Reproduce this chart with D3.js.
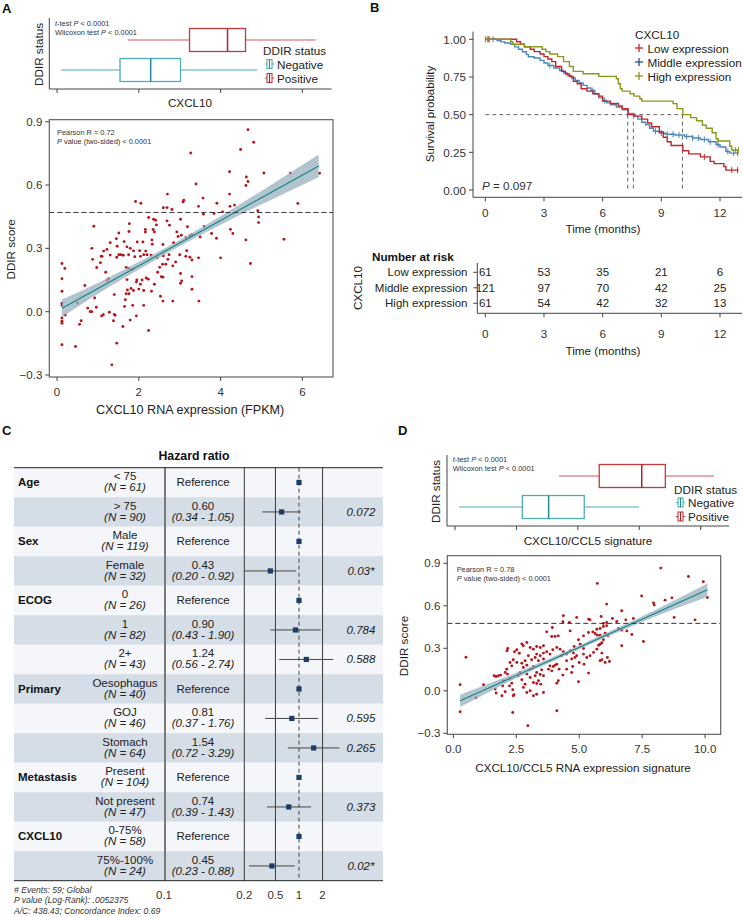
<!DOCTYPE html>
<html><head><meta charset="utf-8">
<script src="https://cdn.jsdelivr.net/npm/d3@7"></script>
<style>body{margin:0;background:#fff}svg{display:block}</style>
</head><body>
<script>
// ---------------- DATA ----------------
// Panel A boxplot: [min, q1, median, q3, max] of CXCL10 (FPKM)
const boxGroups = ["Positive", "Negative"];
const boxA_positive = [1.73, 3.24, 4.17, 4.61, 6.32];
const boxA_negative = [0.10, 1.54, 2.29, 3.02, 4.90];
const boxA_ticks = [0, 2, 4, 6];
// Panel D boxplot: CXCL10/CCL5 signature
const boxD_positive = [4.23, 5.87, 7.60, 8.56, 10.54];
const boxD_negative = [0.17, 2.74, 3.81, 5.26, 7.49];
const boxD_ticks = [0, 2.5, 5, 7.5, 10];

// Panel A scatter: [CXCL10 FPKM, DDIR score]
const scatterA = [
[4.67,0.862],[4.81,0.803],[4.49,0.768],[3.27,0.752],[4.22,0.663],[5.06,0.657],[5.71,0.656],[6.42,0.656],[4.63,0.638],[4.67,0.617],
[4.62,0.598],[3.40,0.605],[4.22,0.557],[2.70,0.557],[3.57,0.538],[3.10,0.528],[3.08,0.52],[1.92,0.522],[2.05,0.514],[3.91,0.514],
[5.89,0.513],[3.46,0.499],[4.23,0.499],[4.34,0.505],[2.60,0.492],[2.69,0.493],[2.81,0.484],[3.84,0.465],[4.05,0.473],[4.91,0.478],
[3.58,0.462],[2.24,0.446],[2.36,0.438],[2.41,0.433],[2.69,0.430],[3.02,0.438],[4.93,0.449],[1.77,0.417],[4.93,0.422],[2.43,0.411],
[2.75,0.41],[3.19,0.402],[4.24,0.39],[1.51,0.373],[1.76,0.38],[2.16,0.389],[2.16,0.377],[2.35,0.389],[2.38,0.378],[2.93,0.378],
[3.60,0.404],[4.30,0.37],[3.78,0.37],[3.25,0.36],[3.30,0.365],[0.90,0.405],[2.96,0.356],[3.04,0.362],[3.15,0.35],[3.50,0.354],
[3.90,0.348],[4.62,0.34],[5.55,0.343],[1.45,0.346],[2.32,0.340],[1.64,0.332],[1.30,0.327],[1.96,0.33],[2.10,0.33],[2.33,0.32],
[2.85,0.327],[2.59,0.318],[1.47,0.31],[1.71,0.307],[1.79,0.30],[0.85,0.30],[1.14,0.287],[1.22,0.295],[1.87,0.288],[2.02,0.289],
[2.17,0.287],[3.17,0.289],[1.10,0.262],[1.30,0.268],[1.46,0.258],[1.62,0.267],[1.75,0.27],[1.90,0.26],[2.30,0.268],[2.45,0.255],
[2.60,0.265],[3.00,0.27],[3.25,0.258],
[0.12,0.228],[0.19,0.205],[0.12,0.156],[0.12,0.097],[0.12,0.04],[0.12,0.03],[0.20,-0.016],[0.50,0.041],[0.12,-0.03],[0.12,-0.045],
[0.12,-0.055],[0.12,-0.157],[0.45,-0.165],[0.59,-0.043],[0.55,-0.06],[0.68,0.124],[0.75,0.017],[0.81,0.0],[0.85,0.0],[0.96,0.021],
[0.92,0.065],[0.87,0.248],[0.97,0.209],[1.06,0.232],[1.08,0.263],[1.13,-0.014],[1.09,-0.02],[1.19,0.187],[1.22,0.149],[1.26,0.156],
[1.28,-0.003],[1.38,-0.043],[1.42,-0.017],[1.40,-0.013],[1.40,0.081],[1.46,-0.149],[1.61,-0.07],[1.51,0.27],[1.56,0.27],[1.65,0.025],
[1.67,0.057],[1.69,0.085],[1.72,0.103],[1.76,0.085],[1.69,0.21],[1.75,0.205],[1.83,0.2],[1.71,0.152],[1.79,-0.04],[1.94,-0.02],
[1.85,0.03],[1.81,0.11],[1.87,0.10],[1.94,0.14],[1.95,0.15],[2.00,0.107],[2.04,0.13],[2.08,0.15],[2.18,0.16],[2.23,0.154],
[2.12,0.03],[2.12,0.10],[2.31,0.097],[2.24,-0.089],[2.12,0.27],[2.20,0.27],[2.04,0.262],[2.38,0.13],[2.46,0.187],[2.51,0.21],
[2.53,0.073],[2.59,0.05],[2.55,0.166],[2.59,0.163],[2.58,0.225],[2.66,0.225],[2.71,0.248],[2.74,0.27],[2.83,0.217],[2.90,0.235],
[2.83,0.05],[3.02,0.181],[3.05,0.145],[3.02,0.135],[3.15,0.262],[3.30,0.245],[3.30,0.166],[3.30,0.106],[3.46,0.255],[3.47,0.05],
[4.00,0.255],[4.73,0.228],[1.34,-0.252]
];
// Panel D scatter: [CXCL10/CCL5 signature, DDIR score]
const scatterD = [
[8.24,0.866],[9.34,0.807],[9.93,0.77],[5.72,0.758],[10.09,0.659],[7.48,0.67],[8.41,0.64],[8.68,0.656],[7.95,0.62],[7.98,0.605],
[6.09,0.612],[4.37,0.53],[4.90,0.518],[6.69,0.565],[8.77,0.518],[9.60,0.501],[5.87,0.524],[5.37,0.506],[5.43,0.501],[6.49,0.489],
[6.85,0.501],[7.15,0.51],[3.93,0.447],[4.64,0.423],[4.35,0.487],[4.61,0.482],[3.91,0.383],[4.04,0.383],[4.17,0.388],[3.71,0.416],
[5.70,0.435],[5.83,0.44],[5.96,0.454],[6.09,0.459],[6.09,0.482],[5.96,0.475],[6.32,0.51],[5.37,0.412],[5.54,0.416],[5.63,0.405],
[5.72,0.393],[5.83,0.393],[6.03,0.407],[6.14,0.388],[6.56,0.44],[6.69,0.428],[6.89,0.423],[7.09,0.397],[7.55,0.348],[6.69,0.318],
[5.96,0.36],[5.83,0.329],[5.77,0.322],[5.90,0.339],[5.17,0.388],[4.97,0.36],[5.04,0.329],[5.17,0.299],[4.80,0.313],[2.16,0.299],
[2.13,0.283],[2.43,0.276],[2.52,0.29],[2.62,0.265],[2.72,0.33],[2.78,0.318],[2.92,0.341],[3.05,0.306],[3.18,0.294],[3.31,0.313],
[3.45,0.306],[3.58,0.318],[3.31,0.259],[3.45,0.248],[3.58,0.266],[3.71,0.276],[3.84,0.259],[3.95,0.29],[4.11,0.306],[4.24,0.294],
[4.37,0.276],[4.50,0.259],[4.64,0.283],[4.77,0.266],[4.90,0.248],[4.30,0.248],[4.50,0.212],[4.70,0.224],[4.83,0.235],[5.17,0.259],
[5.30,0.235],[5.43,0.248],[5.57,0.271],[5.70,0.294],[5.83,0.212],[5.90,0.219],[6.20,0.207],[5.00,0.2],[5.19,0.188],[5.37,0.125],
[4.70,0.129],[4.74,0.172],[4.97,0.064],[4.11,0.188],[3.97,0.172],[3.84,0.176],[3.78,0.153],[3.91,0.141],[4.04,0.181],[4.20,0.153],
[4.35,0.111],[4.50,0.153],[3.58,0.224],[3.38,0.212],[3.25,0.235],[3.11,0.219],[2.98,0.248],[2.85,0.212],[2.38,0.219],[2.52,0.2],
[2.32,0.176],[2.25,0.2],[2.72,0.195],[2.78,0.165],[2.92,0.181],[3.05,0.153],[3.18,0.172],[3.31,0.129],[3.45,0.115],[3.58,0.106],
[3.51,0.148],[2.92,0.118],[3.05,0.094],[3.18,0.059],[3.31,0.052],[3.47,0.047],[3.38,0.071],[3.25,0.106],[2.65,0.129],[2.58,0.106],
[2.72,0.078],[2.85,0.047],[2.78,0.024],[2.92,-0.012],[3.05,0.0],[3.18,-0.035],[3.31,-0.024],[3.58,-0.012],[4.11,0.054],[4.17,0.071],
[2.06,0.129],[2.12,0.153],[2.15,0.118],[2.25,0.087],[2.32,0.054],[2.23,0.035],[2.36,0.007],[2.41,-0.028],[2.38,-0.035],[1.79,0.106],
[1.88,0.111],[1.99,0.071],[1.96,0.035],[2.06,-0.007],[1.93,-0.035],[1.62,0.106],[1.70,0.101],[1.20,0.043],[1.66,0.012],[1.70,-0.016],
[0.50,0.237],[0.27,0.043],[0.90,-0.049],[0.27,-0.148],[2.36,-0.153],[4.11,-0.141],[2.96,-0.247],[6.03,0.2],[6.12,0.235],[5.90,0.266]
];
// Regression fits with 95% CI (x, fit, lower, upper)
const regA_x  = [0.12, 1, 2, 3, 4, 5, 6.4];
const regA_fit= [0.016, 0.110, 0.218, 0.325, 0.432, 0.540, 0.690];
const regA_lo = [-0.025, 0.085, 0.200, 0.310, 0.412, 0.508, 0.637];
const regA_hi = [0.058, 0.136, 0.236, 0.340, 0.452, 0.572, 0.745];
const regD_x  = [0.27, 2, 4, 6, 8, 10.09];
const regD_fit= [-0.070, 0.068, 0.227, 0.387, 0.546, 0.713];
const regD_lo = [-0.115, 0.045, 0.212, 0.372, 0.523, 0.662];
const regD_hi = [-0.027, 0.092, 0.242, 0.402, 0.568, 0.757];
const thresholdA = 0.47, thresholdD = 0.476;
const scatterTicksY = [-0.3, 0, 0.3, 0.6, 0.9];
const scatterA_ticksX = [0, 2, 4, 6];
const scatterD_ticksX = [0, 2.5, 5, 7.5, 10];

// Panel B Kaplan-Meier: [time (months), survival]
const kmLow = [[0,1],[1.6,0.984],[1.8,0.967],[2.0,0.951],[2.3,0.934],[2.5,0.918],[2.8,0.902],[3.0,0.885],[3.2,0.869],[3.4,0.852],
 [3.6,0.82],[3.9,0.787],[4.1,0.77],[4.3,0.754],[4.5,0.721],[4.7,0.705],[4.9,0.672],[5.2,0.656],[5.5,0.639],[5.8,0.623],[6.0,0.59],
 [6.4,0.574],[6.8,0.557],[7.0,0.54],[7.3,0.5],[7.6,0.49],[8.0,0.47],[8.3,0.445],[8.5,0.42],[8.9,0.385],[9.1,0.35],[9.3,0.32],
 [9.5,0.295],[10.1,0.26],[10.4,0.24],[11.0,0.22],[11.5,0.19],[11.7,0.175],[12.2,0.155],[12.3,0.132]];
const kmMid = [[0,1],[0.6,0.992],[0.8,0.983],[1.0,0.975],[1.3,0.967],[1.5,0.95],[1.7,0.934],[1.9,0.917],[2.1,0.9],[2.2,0.884],
 [2.5,0.876],[2.8,0.86],[3.0,0.843],[3.2,0.826],[3.5,0.81],[3.8,0.793],[4.0,0.776],[4.2,0.76],[4.4,0.743],[4.6,0.727],[4.8,0.71],
 [5.0,0.694],[5.2,0.677],[5.4,0.66],[5.6,0.636],[5.8,0.611],[6.0,0.594],[6.2,0.578],[6.4,0.566],[6.7,0.55],[7.0,0.533],[7.3,0.508],
 [7.6,0.49],[7.8,0.47],[8.0,0.45],[8.2,0.432],[8.4,0.41],[8.6,0.39],[8.9,0.378],[9.2,0.37],[9.7,0.365],[10.2,0.355],[10.6,0.345],
 [11.0,0.335],[11.4,0.32],[11.8,0.3],[12.0,0.285],[12.3,0.255],[12.5,0.245]];
const kmHigh = [[0,1],[1.3,0.984],[1.4,0.967],[2.0,0.951],[2.9,0.934],[3.1,0.918],[3.3,0.902],[3.7,0.885],[4.0,0.852],[4.3,0.82],
 [4.5,0.787],[5.0,0.771],[5.8,0.754],[6.7,0.738],[6.8,0.705],[6.9,0.672],[7.0,0.656],[7.4,0.639],[7.6,0.623],[7.9,0.606],[8.0,0.59],
 [9.6,0.573],[9.8,0.54],[10.1,0.5],[10.5,0.48],[10.8,0.46],[11.1,0.43],[11.3,0.41],[11.6,0.38],[11.8,0.34],[11.9,0.325],[12.5,0.29],[12.6,0.265]];
const kmEnd = 12.95;
const censorLow = [0.15, 11.2, 12.6, 12.9];
const censorMid = [0.0, 0.2, 0.4, 3.3, 5.5, 6.1, 8.7, 9.0, 9.3, 9.6, 9.9, 10.3, 10.6, 10.9, 11.2, 11.5, 11.9, 12.4, 12.7, 12.9];
const censorHigh = [0.1, 11.9, 12.8, 12.95];
const kmMedians = [7.28, 7.57, 10.08];
const kmGroups = ["Low expression", "Middle expression", "High expression"];
const kmTicksX = [0, 3, 6, 9, 12];
const kmTicksY = [0, 0.25, 0.5, 0.75, 1];
const riskLow = [61, 53, 35, 21, 6];
const riskMid = [121, 97, 70, 42, 25];
const riskHigh = [61, 54, 42, 32, 13];

// Panel C forest plot
const forestVar   = ["Age","","Sex","","ECOG","","","Primary","","","Metastasis","","CXCL10",""];
const forestLevel = ["< 75","> 75","Male","Female","0","1","2+","Oesophagus","GOJ","Stomach","Present","Not present","0-75%","75%-100%"];
const forestN     = [61,90,119,32,26,82,43,40,46,64,104,47,58,24];
const forestHR    = [1,0.60,1,0.43,1,0.90,1.24,1,0.81,1.54,1,0.74,1,0.45];
const forestLo    = [null,0.34,null,0.20,null,0.43,0.56,null,0.37,0.72,null,0.39,null,0.23];
const forestHi    = [null,1.05,null,0.92,null,1.90,2.74,null,1.76,3.29,null,1.43,null,0.88];
const forestP     = ["","0.072","","0.03*","","0.784","0.588","","0.595","0.265","","0.373","","0.02*"];
const forestGrid  = [0.2, 0.5, 2];
const forestTickLabels = ["0.2","0.5","1","2"];
const forestTickValues = [0.2, 0.5, 1, 2];
const forestFoot = ["# Events: 59; Global", "P value (Log-Rank): .0052375", "A/C: 438.43; Concordance Index: 0.69"];

// ---------------- DRAWING ----------------
const F = '"Liberation Sans", Arial, Helvetica, sans-serif';
const svg = d3.select("body").append("svg").attr("width", 743).attr("height", 917);
function T(x, y, s, o = {}) {
  const t = svg.append("text").attr("x", x).attr("y", y).attr("font-family", F)
    .attr("font-size", o.size || 11.5).attr("fill", o.fill || "#222")
    .attr("text-anchor", o.anchor || "start");
  if (o.weight) t.attr("font-weight", o.weight);
  if (o.italic) t.attr("font-style", "italic");
  if (o.mid) t.attr("dominant-baseline", "central");
  if (o.rot != null) t.attr("transform", `rotate(${o.rot},${x},${y})`);
  t.text(s);
  return t;
}
function line(x1, y1, x2, y2, col, w, dash) {
  const l = svg.append("line").attr("x1", x1).attr("y1", y1).attr("x2", x2).attr("y2", y2)
    .attr("stroke", col).attr("stroke-width", w || 1);
  if (dash) l.attr("stroke-dasharray", dash);
  return l;
}
function mixed(x, y, parts, size) {
  const t = svg.append("text").attr("x", x).attr("y", y).attr("font-family", F)
    .attr("font-size", size).attr("fill", "#333");
  parts.forEach(p => t.append("tspan").attr("font-style", p[1] ? "italic" : "normal").text(p[0]));
}
const fmtMinus = v => (v < 0 ? "\u2212" : "") + Math.abs(v).toFixed(1);

// panel letters
T(2, 13, "A", {size: 13, weight: "bold", fill: "#111"});
T(370, 12, "B", {size: 13, weight: "bold", fill: "#111"});
T(2, 435, "C", {size: 13, weight: "bold", fill: "#111"});
T(398, 435, "D", {size: 13, weight: "bold", fill: "#111"});

const RED = {wh: "#de8f91", box: "#c23a3d", med: "#a8242a"};
const TEAL = {wh: "#86c9cc", box: "#4eaeb3", med: "#1f8a8f"};

function drawBox(xs, yc, st, c) {
  const h = 11.5;
  line(xs(st[0]), yc, xs(st[1]), yc, c.wh, 1.6);
  line(xs(st[3]), yc, xs(st[4]), yc, c.wh, 1.6);
  svg.append("rect").attr("x", xs(st[1])).attr("y", yc - h).attr("width", xs(st[3]) - xs(st[1]))
    .attr("height", 2 * h).attr("fill", "#fff").attr("stroke", c.box).attr("stroke-width", 1.3);
  line(xs(st[2]), yc - h, xs(st[2]), yc + h, c.med, 1.5);
}
function legendKey(x, y, c) {
  line(x, y, x + 9, y, c.box, 1);
  svg.append("rect").attr("x", x + 2).attr("y", y - 4.5).attr("width", 5).attr("height", 9)
    .attr("fill", "#fff").attr("stroke", c.box).attr("stroke-width", 1.1);
  line(x + 4.5, y - 4.5, x + 4.5, y + 4.5, c.med, 1.1);
}

function boxPanel(cfg) {
  const {xs, ticks, left, right, top, bottom, yPos, pos, neg, lx, ly, tx, ty, title, titleX, titleY, ylabX} = cfg;
  line(left, top, left, bottom, "#444", 1);
  line(left, bottom, right, bottom, "#444", 1);
  ticks.forEach(v => line(xs(v), bottom, xs(v), bottom + 4, "#444", 1));
  drawBox(xs, yPos("Positive"), pos, RED);
  drawBox(xs, yPos("Negative"), neg, TEAL);
  mixed(tx, ty, [["t", true], ["-test ", false], ["P", true], [" < 0.0001", false]], 7.4);
  mixed(tx, ty + 9.3, [["Wilcoxon test ", false], ["P", true], [" < 0.0001", false]], 7.4);
  T(lx, ly, "DDIR status", {size: 11.7, mid: true});
  legendKey(lx + 2, ly + 13.5, TEAL);
  T(lx + 14, ly + 13.5, "Negative", {size: 11.7, mid: true});
  legendKey(lx + 2, ly + 27.5, RED);
  T(lx + 14, ly + 27.5, "Positive", {size: 11.7, mid: true});
  T(titleX, titleY, title, {size: 11.7, anchor: "middle", mid: true});
  T(ylabX, (top + bottom) / 2 + 1, "DDIR status", {size: 11.7, anchor: "middle", mid: true, rot: -90});
}

// ---- Panel A boxplot
const xA = d3.scaleLinear().domain([-0.19, 6.75]).range([49.3, 333]);
boxPanel({xs: xA, ticks: boxA_ticks, left: 49.3, right: 331.7, top: 18, bottom: 89,
  yPos: d3.scalePoint().domain(["Negative", "Positive"]).range([70, 40]),
  pos: boxA_positive, neg: boxA_negative, lx: 263, ly: 50.5, tx: 55, ty: 26,
  title: "CXCL10", titleX: 190, titleY: 102.5, ylabX: 38});

// ---- Panel D boxplot
const xDb = d3.scaleLinear().domain([0, 10]).range([455, 700.7]);
boxPanel({xs: xDb, ticks: boxD_ticks, left: 447, right: 729, top: 455, bottom: 526,
  yPos: d3.scalePoint().domain(["Negative", "Positive"]).range([507, 476]),
  pos: boxD_positive, neg: boxD_negative, lx: 674, ly: 489, tx: 452.7, ty: 462,
  title: "CXCL10/CCL5 signature", titleX: 588, titleY: 540, ylabX: 435});

// ---- scatter panels
function scatterPanel(cfg) {
  const {xs, ys, left, right, top, bottom, pts, rx, rfit, rlo, rhi, thr, ticksX, ticksXfmt, R, xTitle, xTitleY, yTitleX, textX, textY} = cfg;
  svg.append("g").selectAll("circle").data(pts).join("circle")
    .attr("cx", d => xs(d[0])).attr("cy", d => ys(d[1])).attr("r", 1.45).attr("fill", "#b3171c");
  const band = d3.area().x((d, i) => xs(rx[i])).y0((d, i) => ys(rlo[i])).y1((d, i) => ys(rhi[i])).curve(d3.curveMonotoneX);
  svg.append("path").attr("d", band(rx)).attr("fill", "#98b2bf").attr("opacity", 0.75);
  const ln = d3.line().x((d, i) => xs(rx[i])).y((d, i) => ys(rfit[i]));
  svg.append("path").attr("d", ln(rx)).attr("fill", "none").attr("stroke", "#13838a").attr("stroke-width", 1.1);
  line(left, ys(thr), right, ys(thr), "#333", 1, "5,3");
  svg.append("rect").attr("x", left).attr("y", top).attr("width", right - left).attr("height", bottom - top)
    .attr("fill", "none").attr("stroke", "#555").attr("stroke-width", 1.1);
  scatterTicksY.forEach(v => {
    line(left - 4, ys(v), left, ys(v), "#444", 1);
    T(left - 7, ys(v), fmtMinus(v), {size: 11.5, anchor: "end", mid: true, fill: "#333"});
  });
  ticksX.forEach(v => {
    line(xs(v), bottom, xs(v), bottom + 4, "#444", 1);
    T(xs(v), bottom + 15, ticksXfmt(v), {size: 11.5, anchor: "middle", mid: true, fill: "#333"});
  });
  T((left + right) / 2 - 1, xTitleY, xTitle, {size: cfg.xTitleSize || 11.7, anchor: "middle", mid: true});
  T(yTitleX, (top + bottom) / 2 + 1, "DDIR score", {size: 11.7, anchor: "middle", mid: true, rot: -90});
  mixed(textX, textY, [["Pearson R = " + R, false]], 7.4);
  mixed(textX, textY + 9, [["P", true], [" value (two-sided) < 0.0001", false]], 7.4);
}
const yA = d3.scaleLinear().domain([-0.3, 0.9]).range([375, 121.7]);
scatterPanel({xs: xA, ys: yA, left: 49.3, right: 333, top: 119.7, bottom: 377, pts: scatterA,
  rx: regA_x, rfit: regA_fit, rlo: regA_lo, rhi: regA_hi, thr: thresholdA, ticksX: scatterA_ticksX,
  ticksXfmt: d3.format("d"), R: "0.72", xTitle: "CXCL10 RNA expression (FPKM)", xTitleY: 410, xTitleSize: 12.6,
  yTitleX: 11, textX: 57, textY: 135});
const xD = d3.scaleLinear().domain([-0.24, 10.62]).range([447.3, 720.7]);
const yD = d3.scaleLinear().domain([-0.3, 0.9]).range([733.3, 563.3]);
scatterPanel({xs: xD, ys: yD, left: 447.3, right: 720.7, top: 555.7, bottom: 734.3, pts: scatterD,
  rx: regD_x, rfit: regD_fit, rlo: regD_lo, rhi: regD_hi, thr: thresholdD, ticksX: scatterD_ticksX,
  ticksXfmt: d3.format(".1f"), R: "0.78", xTitle: "CXCL10/CCL5 RNA expression signature", xTitleY: 767.7,
  yTitleX: 403, textX: 456.7, textY: 571.5});

// ---- Panel B: Kaplan-Meier
const xB = d3.scaleLinear().domain([0, 12]).range([485.3, 720]);
const yB = d3.scaleLinear().domain([0, 1]).range([190, 39.3]);
const KMC = ["#c0262c", "#4f86b9", "#8a9a1e"];
const KMLEG = ["#c0262c", "#2c4f86", "#8a9a1e"];
const kmSets = [kmLow, kmMid, kmHigh];
const censors = [censorLow, censorMid, censorHigh];
const survAt = (km, t) => { let s = 1; km.forEach(d => { if (d[0] <= t) s = d[1]; }); return s; };
line(xB(0), yB(0.5), xB(d3.max(kmMedians)), yB(0.5), "#666", 1, "4,3");
kmMedians.forEach(m => line(xB(m), yB(0.5), xB(m), yB(0), "#666", 1, "4,3"));
const stepLine = d3.line().x(d => xB(d[0])).y(d => yB(d[1])).curve(d3.curveStepAfter);
[1, 0, 2].forEach(i => {
  const km = kmSets[i].concat([[kmEnd, kmSets[i][kmSets[i].length - 1][1]]]);
  svg.append("path").attr("d", stepLine(km)).attr("fill", "none").attr("stroke", KMC[i]).attr("stroke-width", 1.4);
  censors[i].forEach(t => {
    const cx = xB(t), cy = yB(survAt(kmSets[i], t));
    line(cx, cy - 3, cx, cy + 3, KMC[i], 1);
  });
});
line(473, 31.7, 473, 197.3, "#444", 1);
line(473, 197.3, 742, 197.3, "#444", 1);
kmTicksY.forEach(v => {
  line(469, yB(v), 473, yB(v), "#444", 1);
  T(466, yB(v), v.toFixed(2), {size: 11.7, anchor: "end", mid: true, fill: "#333"});
});
kmTicksX.forEach(v => {
  line(xB(v), 197.3, xB(v), 201.3, "#444", 1);
  T(xB(v), 212, String(v), {size: 11.7, anchor: "middle", mid: true, fill: "#333"});
});
T(603, 228, "Time (months)", {size: 11.7, anchor: "middle", mid: true});
T(430, 114, "Survival probability", {size: 11.5, anchor: "middle", mid: true, rot: -90});
mixed(482, 189.5, [["P", true], [" = 0.097", false]], 11.7);
T(635, 34, "CXCL10", {size: 11.7, mid: true});
kmGroups.forEach((g, i) => {
  const y = 48 + i * 14;
  line(635, y, 643, y, KMLEG[i], 1.3);
  line(639, y - 4, 639, y + 4, KMLEG[i], 1.3);
  T(647.5, y, g, {size: 11.7, mid: true});
});

// risk table
T(372, 256, "Number at risk", {size: 11.7, weight: "bold", mid: true, fill: "#111"});
const riskRows = [riskLow, riskMid, riskHigh];
const riskY = d3.scalePoint().domain(kmGroups).range([272.3, 303.3]);
line(477.3, 263, 477.3, 313.3, "#444", 1);
line(477.3, 313.3, 742, 313.3, "#444", 1);
kmGroups.forEach((g, i) => {
  const y = riskY(g);
  line(473.3, y, 477.3, y, "#444", 1);
  T(467.5, y, g, {size: 11.5, anchor: "end", mid: true});
  riskRows[i].forEach((n, j) => T(xB(kmTicksX[j]), y, String(n), {size: 11.5, anchor: "middle", mid: true}));
});
kmTicksX.forEach(v => {
  line(xB(v), 313.3, xB(v), 317.3, "#444", 1);
  T(xB(v), 333, String(v), {size: 11.7, anchor: "middle", mid: true, fill: "#333"});
});
T(603, 350, "Time (months)", {size: 11.7, anchor: "middle", mid: true});
T(357, 288, "CXCL10", {size: 11.7, anchor: "middle", mid: true, rot: -90});

// ---- Panel C: forest plot
const tTop = 467.7, rowH = 29.5, tLeft = 14, tRight = 383;
const nRows = forestLevel.length, tBot = tTop + rowH * nRows;
const xF = d3.scaleLog().domain([0.2, 1]).range([244.3, 299]);
const colVar = 18, colLev = 125, colSep = 165, colHR = 203, colP = 361;
T(194, 456, "Hazard ratio", {size: 12.3, weight: "bold", anchor: "middle", mid: true, fill: "#111"});
forestLevel.forEach((lev, i) => {
  svg.append("rect").attr("x", tLeft).attr("y", tTop + i * rowH).attr("width", tRight - tLeft).attr("height", rowH)
    .attr("fill", i % 2 ? "#d5dde7" : "#f4f6f9");
});
line(colSep, tTop, colSep, tBot, "#7a7a7a", 2);
forestGrid.forEach(v => line(xF(v), tTop, xF(v), tBot, "#3a3a3a", 1));
line(xF(1), tTop, xF(1), tBot, "#444", 1, "4,3");
line(tLeft, tTop, tRight, tTop, "#222", 1);
line(tLeft, tBot, tRight, tBot, "#222", 1);
forestLevel.forEach((lev, i) => {
  const y0 = tTop + i * rowH, yc = y0 + rowH / 2;
  if (forestVar[i]) T(colVar, yc, forestVar[i], {size: 11.5, weight: "bold", mid: true, fill: "#111"});
  T(colLev, y0 + 12.3, lev, {size: 11.5, anchor: "middle"});
  T(colLev, y0 + 23.5, `(N = ${forestN[i]})`, {size: 11.5, anchor: "middle", italic: true});
  if (forestLo[i] == null) {
    T(colHR, yc, "Reference", {size: 11.5, anchor: "middle", mid: true});
  } else {
    T(colHR, y0 + 12.3, forestHR[i].toFixed(2), {size: 11.5, anchor: "middle"});
    T(colHR, y0 + 23.5, `(${forestLo[i].toFixed(2)} - ${forestHi[i].toFixed(2)})`, {size: 11.5, anchor: "middle", italic: true});
    line(xF(forestLo[i]), yc, xF(forestHi[i]), yc, "#444", 1);
  }
  if (forestP[i]) T(colP, yc, forestP[i], {size: 11.5, anchor: "middle", mid: true, italic: true});
  svg.append("rect").attr("x", xF(forestHR[i]) - 2.6).attr("y", yc - 2.6).attr("width", 5.2).attr("height", 5.2).attr("fill", "#1b3d66");
});
T(colSep - 1, 895, "0.1", {size: 11.5, anchor: "middle", mid: true, fill: "#333"});
forestTickValues.forEach((v, i) => T(xF(v), 895, forestTickLabels[i], {size: 11.5, anchor: "middle", mid: true, fill: "#333"}));
forestFoot.forEach((s, i) => T(14, 893 + i * 10.3, s, {size: 8.6, italic: true, fill: "#333"}));
</script>
</body></html>
